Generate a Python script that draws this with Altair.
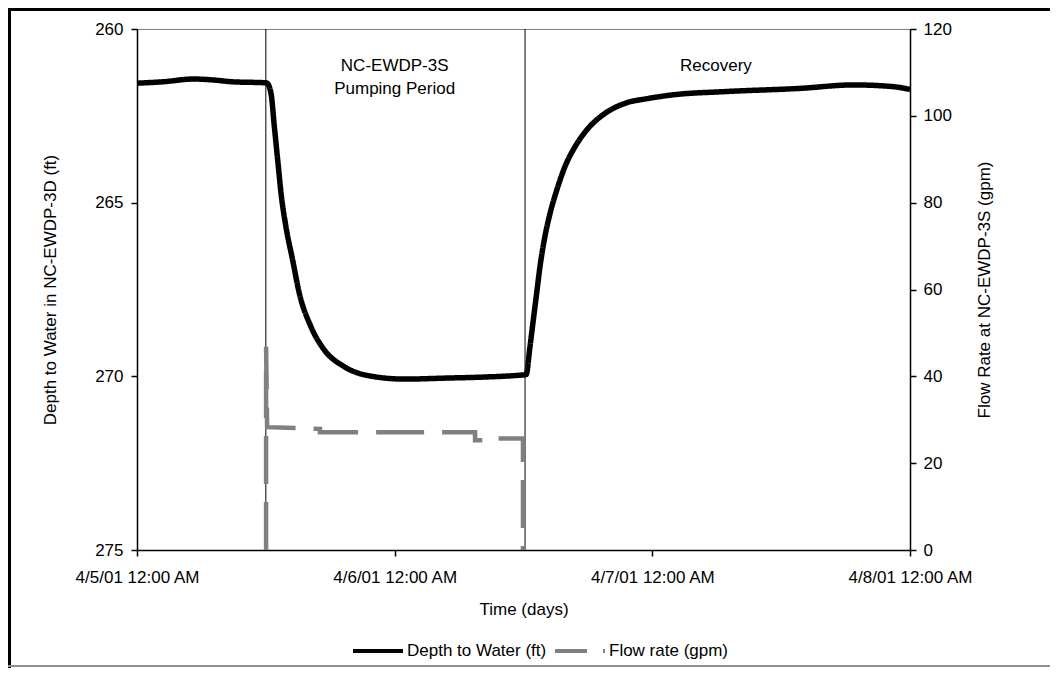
import altair as alt
import pandas as pd

# ---------------- data ----------------
depth_day = [0.000, 0.100, 0.220, 0.300, 0.370, 0.503, 0.520, 0.533, 0.546, 0.559,
             0.578, 0.604, 0.630, 0.675, 0.727, 0.804, 0.921, 1.040, 1.200, 1.350,
             1.480, 1.510, 1.525, 1.538, 1.551, 1.564, 1.583, 1.603, 1.629, 1.661,
             1.700, 1.751, 1.816, 1.894, 1.984, 2.075, 2.288, 2.573, 2.780, 2.935, 3.000]
depth_ft = [261.56, 261.52, 261.44, 261.47, 261.52, 261.55, 261.85, 262.81, 263.77, 264.73,
            265.69, 266.65, 267.61, 268.57, 269.24, 269.72, 270.01, 270.08, 270.05, 270.02,
            269.97, 269.95, 269.15, 268.38, 267.61, 266.84, 265.98, 265.31, 264.64, 263.96,
            263.39, 262.86, 262.43, 262.14, 262.00, 261.90, 261.80, 261.71, 261.61, 261.66, 261.74]

flow_day = [0.501, 0.501, 0.505, 0.710, 0.710, 1.312, 1.312, 1.400, 1.400, 1.498, 1.498]
flow_gpm = [0.0, 46.8, 28.3, 27.9, 27.1, 27.1, 25.3, 25.3, 25.7, 25.7, 0.0]

boundary_day = [0.5, 1.506]

annot_text = ["NC-EWDP-3S", "Pumping Period", "Recovery"]
annot_day = [1.0, 1.0, 2.247]
annot_depth = [261.07, 261.73, 261.07]

x_tick_days = [0, 1, 2, 3]
x_tick_labels = ["4/5/01 12:00 AM", "4/6/01 12:00 AM", "4/7/01 12:00 AM", "4/8/01 12:00 AM"]
left_ticks = [260, 265, 270, 275]
right_ticks = [0, 20, 40, 60, 80, 100, 120]

series_names = ["Depth to Water (ft)", "Flow rate (gpm)"]

FONT = "Liberation Sans"
FS = 17

depth_df = pd.DataFrame({"day": depth_day, "depth": depth_ft, "series": series_names[0]})
flow_df = pd.DataFrame({"day": flow_day, "flow": flow_gpm, "i": list(range(len(flow_day)))})
bound_df = pd.DataFrame({"day": boundary_day})
annot_df = pd.DataFrame({"day": annot_day, "depth": annot_depth, "label": annot_text})
frame_df = pd.DataFrame({"k": [0]})

label_expr = "[" + ",".join("'" + s + "'" for s in x_tick_labels) + "][datum.value]"

x_enc = alt.X(
    "day:Q",
    scale=alt.Scale(domain=[0, 3], nice=False, zero=False),
    axis=alt.Axis(values=x_tick_days, labelExpr=label_expr, title="Time (days)",
                  grid=False, tickSize=6, labelPadding=13, titlePadding=16,
                  domainColor="black", tickColor="black", labelFlush=False),
)

y_left = alt.Y(
    "depth:Q",
    scale=alt.Scale(domain=[260, 275], reverse=True, nice=False, zero=False),
    axis=alt.Axis(values=left_ticks, title="Depth to Water in NC-EWDP-3D (ft)", grid=False,
                  tickSize=6, labelPadding=8, titlePadding=35,
                  domainColor="black", tickColor="black"),
)

legend = alt.Legend(title=None, orient="none", legendX=214, legendY=595,
                    direction="horizontal", symbolType="stroke",
                    symbolSize=2500, symbolStrokeWidth=4,
                    labelFontSize=FS, labelFont=FONT, labelColor="black",
                    columnPadding=0, labelOffset=2)

depth_line = alt.Chart(depth_df).mark_line(strokeWidth=5.5, interpolate="monotone").encode(
    x=x_enc,
    y=y_left,
    color=alt.Color("series:N", scale=alt.Scale(domain=series_names, range=["black", "#808080"]),
                    legend=legend),
    strokeDash=alt.StrokeDash("series:N", scale=alt.Scale(domain=series_names, range=[[1, 0], [32, 16]]),
                              legend=legend),
)

bounds = alt.Chart(bound_df).mark_rule(color="black", strokeWidth=1).encode(x="day:Q")

annots = alt.Chart(annot_df).mark_text(font=FONT, fontSize=FS, color="black",
                                       align="center", baseline="middle").encode(
    x="day:Q", y=y_left, text="label:N")

frame_left = alt.Chart(frame_df).mark_rule(color="black", strokeWidth=3).encode(
    x=alt.value(-127.5), y=alt.value(-21), y2=alt.value(640))
frame_top = alt.Chart(frame_df).mark_rule(color="black", strokeWidth=3).encode(
    x=alt.value(-129), x2=alt.value(925), y=alt.value(-19.5))
frame_bottom = alt.Chart(frame_df).mark_rule(color="#909090", strokeWidth=2).encode(
    x=alt.value(-129), x2=alt.value(925), y=alt.value(637))

left_group = alt.layer(bounds, depth_line, annots, frame_left, frame_top, frame_bottom)

flow_line = alt.Chart(flow_df).mark_line(strokeWidth=4.5, color="#808080", strokeDash=[48, 18]).encode(
    x="day:Q",
    y=alt.Y("flow:Q", scale=alt.Scale(domain=[0, 120], nice=False, zero=False),
            axis=alt.Axis(orient="right", values=right_ticks, title="Flow Rate at NC-EWDP-3S (gpm)",
                          grid=False, tickSize=6, labelPadding=7, titlePadding=42, titleAngle=270,
                          domainColor="black", tickColor="black")),
    order=alt.Order("i:Q"),
)

chart = alt.layer(left_group, flow_line).resolve_scale(y="independent").properties(
    width=773, height=521,
    background="white",
    autosize=alt.AutoSizeParams(type="none"),
    padding={"left": 129, "top": 21, "right": 140, "bottom": 118},
).configure_view(stroke="#808080", strokeWidth=1).configure_axis(
    labelFont=FONT, titleFont=FONT, labelFontSize=FS, titleFontSize=FS,
    labelColor="black", titleColor="black", titleFontWeight="normal", domainWidth=1.5, tickWidth=1.5,
)

chart.save("out.html", embed_options={"renderer": "svg", "actions": False})
